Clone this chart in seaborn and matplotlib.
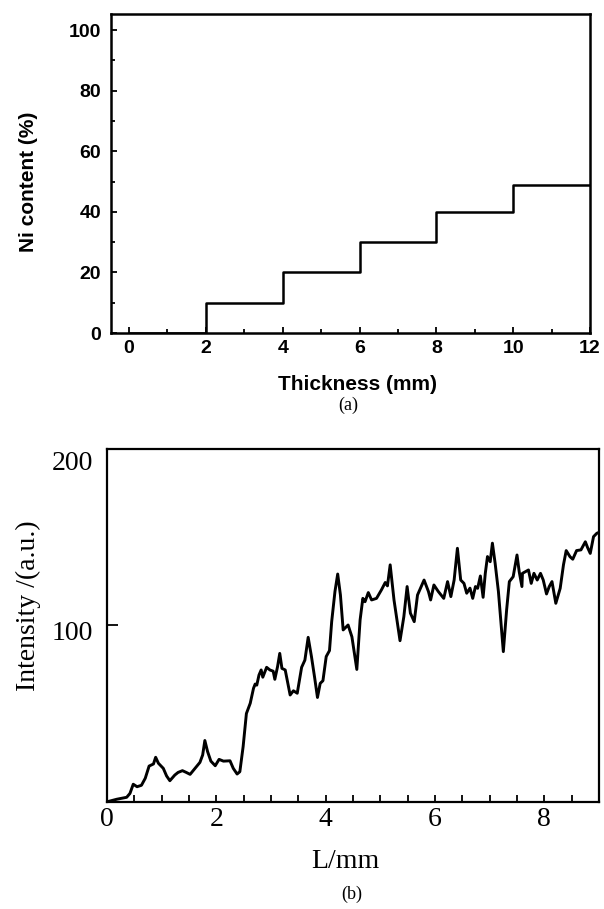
import matplotlib
matplotlib.use("Agg")
import matplotlib.pyplot as plt
import matplotlib.transforms as mtransforms
from matplotlib.ticker import MultipleLocator, FixedLocator
import seaborn as sns

# ---- panel (a): Ni content step profile ----
thickness_mm = [0, 2, 4, 6, 8, 10, 12]
ni_content = [0, 10, 20, 30, 40, 49, 49]
a_xticks = [0, 2, 4, 6, 8, 10, 12]
a_yticks = [0, 20, 40, 60, 80, 100]

# ---- panel (b): intensity line scan ----
position_mm = [
    0.02, 0.18, 0.36, 0.42, 0.48, 0.55, 0.63, 0.70, 0.77, 0.85,
    0.89, 0.94, 1.03, 1.09, 1.15, 1.24, 1.30, 1.38, 1.45, 1.52,
    1.61, 1.70, 1.75, 1.79, 1.84, 1.90, 1.98, 2.05, 2.13, 2.25,
    2.31, 2.38, 2.43, 2.49, 2.55, 2.62, 2.68, 2.71, 2.74, 2.78,
    2.82, 2.85, 2.92, 2.98, 3.04, 3.07, 3.12, 3.16, 3.20, 3.26,
    3.35, 3.41, 3.48, 3.56, 3.62, 3.68, 3.74, 3.80, 3.85, 3.90,
    3.95, 4.01, 4.07, 4.11, 4.17, 4.22, 4.27, 4.32, 4.41, 4.48,
    4.57, 4.63, 4.68, 4.72, 4.78, 4.84, 4.93, 5.02, 5.09, 5.13,
    5.18, 5.25, 5.36, 5.43, 5.49, 5.55, 5.62, 5.68, 5.80, 5.88,
    5.92, 5.98, 6.06, 6.16, 6.23, 6.29, 6.35, 6.41, 6.47, 6.53,
    6.58, 6.64, 6.69, 6.74, 6.78, 6.83, 6.86, 6.88, 6.92, 6.96,
    7.01, 7.05, 7.10, 7.16, 7.25, 7.31, 7.36, 7.43, 7.50, 7.54,
    7.59, 7.60, 7.71, 7.76, 7.81, 7.87, 7.93, 7.98, 8.04, 8.09,
    8.14, 8.21, 8.29, 8.35, 8.40, 8.47, 8.52, 8.59, 8.67, 8.75,
    8.79, 8.84, 8.90, 8.96, 8.99,
]
intensity = [
    0.1, 1.4, 2.5, 4.7, 9.9, 8.5, 9.3, 13.3, 20.2, 21.4,
    25.2, 21.8, 18.9, 14.6, 11.9, 15.1, 16.6, 17.6, 16.6, 15.5,
    18.9, 22.3, 26.5, 34.7, 28.4, 23.0, 20.4, 24.0, 23.0, 23.2,
    18.9, 15.7, 17.0, 31.2, 50.0, 55.8, 64.3, 66.7, 66.1, 71.8,
    74.7, 70.6, 76.2, 74.7, 74.0, 69.4, 76.6, 84.1, 75.6, 74.7,
    60.5, 62.9, 61.5, 76.2, 80.3, 93.2, 82.3, 70.0, 59.1, 67.1,
    68.6, 82.3, 85.7, 102.1, 119.2, 129.1, 117.2, 97.4, 100.2, 93.5,
    75.0, 103.1, 115.3, 113.4, 118.6, 114.4, 115.3, 120.1, 124.3, 122.4,
    134.3, 114.4, 91.3, 104.9, 122.0, 106.9, 102.1, 117.2, 125.7, 119.2,
    114.4, 122.9, 119.2, 115.3, 124.8, 116.3, 125.7, 143.7, 125.7, 123.8,
    118.2, 121.1, 115.3, 122.0, 121.0, 128.0, 121.0, 115.9, 129.5, 139.0,
    136.1, 146.6, 135.2, 119.2, 85.1, 108.7, 124.8, 127.6, 139.9, 130.5,
    122.0, 129.5, 131.4, 123.8, 129.5, 125.7, 129.5, 125.7, 117.8, 122.0,
    124.8, 112.5, 121.0, 134.3, 142.4, 138.9, 137.5, 142.4, 142.8, 147.4,
    144.2, 140.8, 150.3, 152.2, 152.6,
]
b_xticks = [0, 2, 4, 6, 8]
b_yticks = [100, 200]

sns.set_style("ticks")
plt.rcParams.update({
    "text.color": "black",
    "axes.labelcolor": "black",
    "axes.edgecolor": "black",
    "xtick.color": "black",
    "ytick.color": "black",
})
plt.rcParams["font.family"] = ["Liberation Sans", "DejaVu Sans"]
serif = ["Liberation Serif", "DejaVu Serif"]

fig = plt.figure(figsize=(6.04, 9.09), dpi=100)
W, H = 604, 909


def box(l, r, t, b):
    return [l / W, 1 - b / H, (r - l) / W, (b - t) / H]


ax1 = fig.add_axes(box(111, 590, 14, 333))
ax2 = fig.add_axes(box(107, 599, 449, 801.7))

# ---------- panel (a) ----------
sns.lineplot(x=thickness_mm, y=ni_content, drawstyle="steps-post",
             color="black", linewidth=1.8, errorbar=None, ax=ax1)
ax1.set_xlim(-0.47, 12)
ax1.set_ylim(0, 105.3)
ax1.xaxis.set_major_locator(FixedLocator(a_xticks))
ax1.xaxis.set_minor_locator(MultipleLocator(1))
ax1.yaxis.set_major_locator(FixedLocator(a_yticks))
ax1.yaxis.set_minor_locator(MultipleLocator(10))
ax1.tick_params(which="both", direction="in", width=1.3, top=False, right=False,
                bottom=True, left=True)
ax1.tick_params(which="major", length=4)
ax1.tick_params(which="minor", length=3)
ax1.tick_params(axis="y", which="major", labelsize=14, pad=7)
ax1.tick_params(axis="x", which="major", labelsize=14, pad=5)
for lab in ax1.get_xticklabels() + ax1.get_yticklabels():
    lab.set_fontweight("bold")
for s in ax1.spines.values():
    s.set_visible(True)
    s.set_linewidth(1.8)
ax1.set_xlabel("Thickness (mm)", fontsize=15, fontweight="bold", ha="center", va="center")
ax1.set_ylabel("Ni content (%)", fontsize=15, fontweight="bold", ha="center", va="center")
ax1.xaxis.set_label_coords((357 - 111) / 479, (333 - 384) / 319)
ax1.yaxis.set_label_coords((28 - 111) / 479, (333 - 181.5) / 319)

# ---------- panel (b) ----------
sns.lineplot(x=position_mm, y=intensity, color="black", linewidth=2.1,
             errorbar=None, ax=ax2)
ax2.set_xlim(0, 9)
ax2.set_ylim(0, 200)
ax2.xaxis.set_major_locator(FixedLocator(b_xticks))
ax2.xaxis.set_minor_locator(MultipleLocator(0.5))
ax2.yaxis.set_major_locator(FixedLocator(b_yticks))
ax2.tick_params(which="both", direction="in", width=1.3, top=False, right=False,
                bottom=True, left=True)
ax2.tick_params(axis="x", which="both", length=5)
ax2.tick_params(axis="y", which="major", length=8)
ax2.tick_params(axis="x", which="major", labelsize=20, pad=4)
ax2.tick_params(axis="y", which="major", labelsize=20, pad=10)
for lab in ax2.get_xticklabels() + ax2.get_yticklabels():
    lab.set_fontfamily(serif)
for s in ax2.spines.values():
    s.set_visible(True)
    s.set_linewidth(1.6)
ax2.set_xlabel("L/mm", fontsize=20, family=serif, ha="center", va="center")
ax2.set_ylabel("Intensity /(a.u.)", fontsize=20, family=serif, ha="center", va="center")
ax2.xaxis.set_label_coords((345 - 107) / 492, (801.7 - 861) / 352.7)
ax2.yaxis.set_label_coords((28.5 - 107) / 492, (801.7 - 606) / 352.7)

# shift the y tick labels slightly down as in the scan
for lab, dy in zip(ax2.get_yticklabels(), [5, 11]):
    lab.set_transform(lab.get_transform() +
                      mtransforms.ScaledTranslation(0, -dy / 100, fig.dpi_scale_trans))

# captions
fig.text(348 / W, 1 - 405 / H, "(a)", family=serif, fontsize=13, ha="center", va="center")
fig.text(352 / W, 1 - 894 / H, "(b)", family=serif, fontsize=13, ha="center", va="center")

fig.savefig("out.png", dpi=100)
